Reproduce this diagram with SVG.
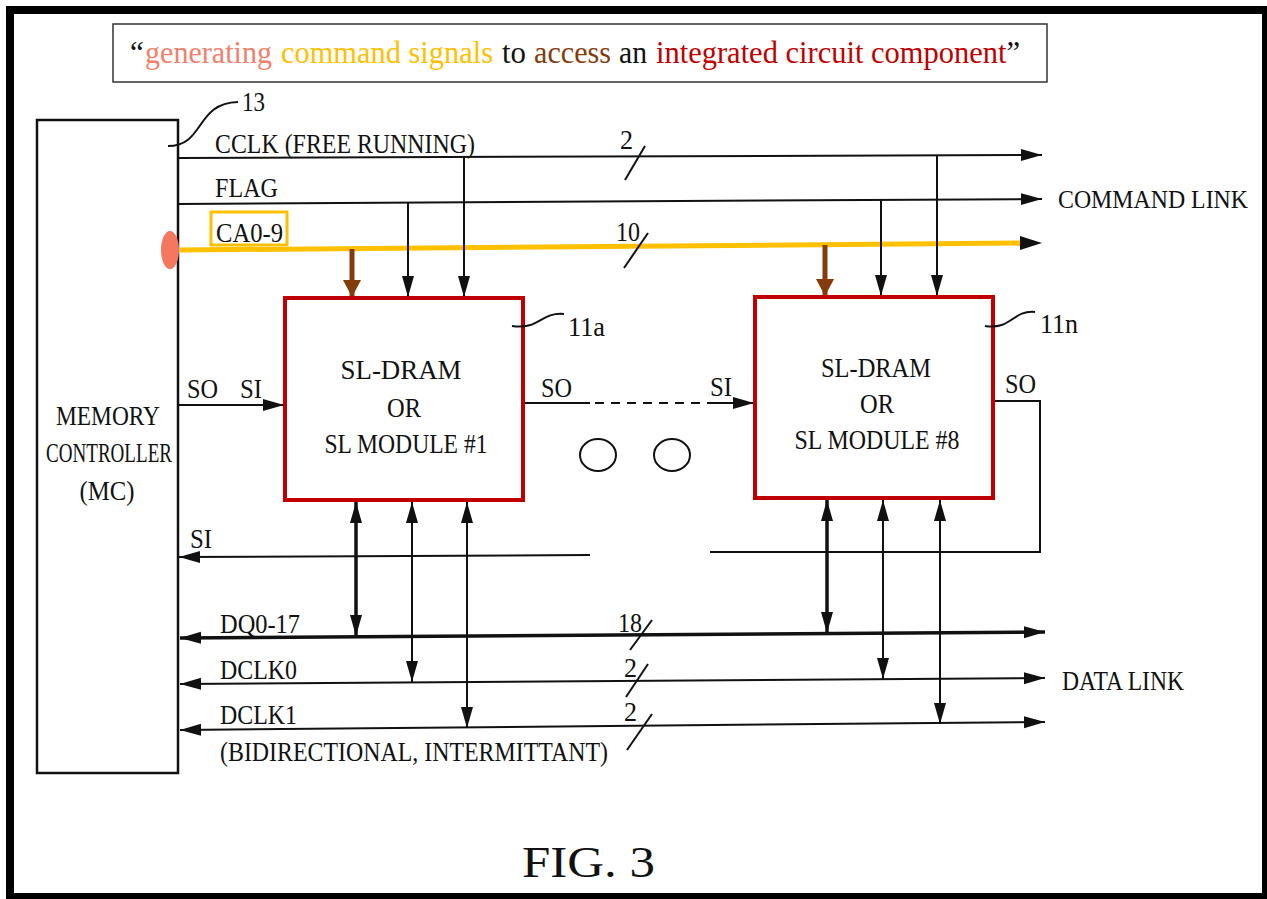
<svg xmlns="http://www.w3.org/2000/svg" width="1267" height="899" viewBox="0 0 1267 899">
<defs>
<style>
.t{font-family:"Liberation Serif","Times New Roman",serif;font-size:28px;fill:#111}
.h{font-family:"Liberation Serif","Times New Roman",serif;font-size:31px}
.ln{stroke:#111;stroke-width:2;fill:none}
.thk{stroke:#111;stroke-width:3.5;fill:none}
.box{fill:#fff;stroke:#C00000;stroke-width:4}
</style>
<marker id="a" markerUnits="userSpaceOnUse" markerWidth="22" markerHeight="14" refX="21" refY="7" orient="auto-start-reverse" viewBox="0 0 22 14">
<path d="M0,1 L21,7 L0,13 z" fill="#111"/>
</marker>
<marker id="b" markerUnits="userSpaceOnUse" markerWidth="18" markerHeight="20" refX="17" refY="10" orient="auto" viewBox="0 0 18 20">
<path d="M0,1 L17,10 L0,19 z" fill="#843C0C"/>
</marker>
</defs>
<rect x="0" y="0" width="1267" height="899" fill="#fff"/>
<rect x="6" y="6" width="1261" height="893" fill="#000"/>
<rect x="14" y="14" width="1248" height="879" fill="#fff"/>

<g id="title">
<rect x="113" y="24" width="934" height="58" fill="#fff" stroke="#333" stroke-width="1.5"/>
<text class="h" x="130" y="63" fill="#111">“</text>
<text class="h" x="145" y="63" fill="#F4806B" textLength="127" lengthAdjust="spacingAndGlyphs">generating</text>
<text class="h" x="281" y="63" fill="#FFC000" textLength="212" lengthAdjust="spacingAndGlyphs">command signals</text>
<text class="h" x="502" y="63" fill="#111" textLength="24" lengthAdjust="spacingAndGlyphs">to</text>
<text class="h" x="534" y="63" fill="#843C0C" textLength="77" lengthAdjust="spacingAndGlyphs">access</text>
<text class="h" x="619" y="63" fill="#111" textLength="28" lengthAdjust="spacingAndGlyphs">an</text>
<text class="h" x="656" y="63" textLength="364" lengthAdjust="spacingAndGlyphs"><tspan fill="#C00000">integrated circuit component</tspan><tspan fill="#111">”</tspan></text>
</g>

<g id="mc">
<rect x="37" y="120" width="141" height="653" fill="#fff" stroke="#111" stroke-width="2.5"/>
<text class="t" x="108" y="425" text-anchor="middle" textLength="104" lengthAdjust="spacingAndGlyphs">MEMORY</text>
<text class="t" x="109" y="462" text-anchor="middle" textLength="126" lengthAdjust="spacingAndGlyphs">CONTROLLER</text>
<text class="t" x="107" y="500" text-anchor="middle" textLength="55" lengthAdjust="spacingAndGlyphs">(MC)</text>
<path class="ln" d="M168,146 C205,146 195,103 238,102"/>
<text class="t" x="242" y="111" textLength="23" lengthAdjust="spacingAndGlyphs">13</text>
</g>

<g id="connectors">
<!-- command link -->
<line class="ln" x1="178" y1="158" x2="1042" y2="155" marker-end="url(#a)"/>
<line class="ln" x1="178" y1="204" x2="1042" y2="199" marker-end="url(#a)"/>
<line x1="180" y1="250" x2="1020" y2="243" stroke="#FFC000" stroke-width="5"/>
<path d="M1020,236 L1042,243 L1020,250 z" fill="#111"/>
<ellipse cx="170" cy="250" rx="9" ry="19" fill="#F4775E"/>
<line class="ln" x1="625" y1="180" x2="645" y2="146"/>
<line class="ln" x1="624" y1="268" x2="648" y2="233"/>
<!-- drops to 11a -->
<line x1="352" y1="249" x2="352" y2="297" stroke="#843C0C" stroke-width="5" marker-end="url(#b)"/>
<line class="ln" x1="408" y1="203" x2="408" y2="297" marker-end="url(#a)"/>
<line class="ln" x1="464" y1="157" x2="464" y2="297" marker-end="url(#a)"/>
<!-- drops to 11n -->
<line x1="825" y1="245" x2="825" y2="296" stroke="#843C0C" stroke-width="5" marker-end="url(#b)"/>
<line class="ln" x1="881" y1="200" x2="881" y2="296" marker-end="url(#a)"/>
<line class="ln" x1="937" y1="156" x2="937" y2="296" marker-end="url(#a)"/>
<!-- serial chain -->
<line class="ln" x1="178" y1="405" x2="284" y2="405" marker-end="url(#a)"/>
<line class="ln" x1="523" y1="403" x2="590" y2="403"/>
<line class="ln" x1="595" y1="403" x2="708" y2="403" stroke-dasharray="9,7"/>
<line class="ln" x1="708" y1="403" x2="754" y2="403" marker-end="url(#a)"/>
<polyline class="ln" points="993,401 1040,401 1040,552 710,552"/>
<line class="ln" x1="590" y1="555" x2="179" y2="557" marker-end="url(#a)"/>
<ellipse cx="598" cy="455" rx="18" ry="16" fill="none" stroke="#111" stroke-width="2"/>
<ellipse cx="672" cy="455" rx="18" ry="16" fill="none" stroke="#111" stroke-width="2"/>
<!-- data link -->
<line class="thk" x1="180" y1="638" x2="1045" y2="632" marker-start="url(#a)" marker-end="url(#a)"/>
<line class="ln" x1="180" y1="684" x2="1045" y2="678" marker-start="url(#a)" marker-end="url(#a)"/>
<line class="ln" x1="180" y1="730" x2="1045" y2="722" marker-start="url(#a)" marker-end="url(#a)"/>
<line class="ln" x1="630" y1="650" x2="652" y2="620"/>
<line class="ln" x1="626" y1="697" x2="648" y2="664"/>
<line class="ln" x1="627" y1="750" x2="652" y2="714"/>
<!-- bidirectional drops 11a -->
<line class="thk" x1="356" y1="502" x2="356" y2="636" marker-start="url(#a)" marker-end="url(#a)"/>
<line class="ln" x1="412" y1="502" x2="412" y2="682" marker-start="url(#a)" marker-end="url(#a)"/>
<line class="ln" x1="467" y1="502" x2="467" y2="728" marker-start="url(#a)" marker-end="url(#a)"/>
<!-- bidirectional drops 11n -->
<line class="thk" x1="827" y1="500" x2="827" y2="633" marker-start="url(#a)" marker-end="url(#a)"/>
<line class="ln" x1="883" y1="500" x2="883" y2="679" marker-start="url(#a)" marker-end="url(#a)"/>
<line class="ln" x1="940" y1="500" x2="940" y2="724" marker-start="url(#a)" marker-end="url(#a)"/>
</g>

<g id="labels">
<text class="t" x="215" y="153" textLength="260" lengthAdjust="spacingAndGlyphs">CCLK (FREE RUNNING)</text>
<text class="t" x="215" y="197" textLength="63" lengthAdjust="spacingAndGlyphs">FLAG</text>
<rect x="211" y="212" width="76" height="33" fill="none" stroke="#FFC000" stroke-width="3"/>
<text class="t" x="216" y="242" textLength="67" lengthAdjust="spacingAndGlyphs">CA0-9</text>
<text class="t" x="620" y="149" textLength="13" lengthAdjust="spacingAndGlyphs">2</text>
<text class="t" x="616" y="241" textLength="24" lengthAdjust="spacingAndGlyphs">10</text>
<text class="t" x="1058" y="208" style="font-size:25px" textLength="190" lengthAdjust="spacingAndGlyphs">COMMAND LINK</text>
<text class="t" x="187" y="398" textLength="31" lengthAdjust="spacingAndGlyphs">SO</text>
<text class="t" x="240" y="398" textLength="22" lengthAdjust="spacingAndGlyphs">SI</text>
<text class="t" x="541" y="397" textLength="31" lengthAdjust="spacingAndGlyphs">SO</text>
<text class="t" x="710" y="396" textLength="22" lengthAdjust="spacingAndGlyphs">SI</text>
<text class="t" x="1005" y="393" textLength="31" lengthAdjust="spacingAndGlyphs">SO</text>
<text class="t" x="190" y="548" textLength="22" lengthAdjust="spacingAndGlyphs">SI</text>
<text class="t" x="220" y="633" textLength="80" lengthAdjust="spacingAndGlyphs">DQ0-17</text>
<text class="t" x="618" y="632" textLength="24" lengthAdjust="spacingAndGlyphs">18</text>
<text class="t" x="220" y="679" textLength="77" lengthAdjust="spacingAndGlyphs">DCLK0</text>
<text class="t" x="624" y="677" textLength="13" lengthAdjust="spacingAndGlyphs">2</text>
<text class="t" x="220" y="724" textLength="77" lengthAdjust="spacingAndGlyphs">DCLK1</text>
<text class="t" x="624" y="721" textLength="13" lengthAdjust="spacingAndGlyphs">2</text>
<text class="t" x="220" y="761" textLength="388" lengthAdjust="spacingAndGlyphs">(BIDIRECTIONAL, INTERMITTANT)</text>
<text class="t" x="1062" y="690" textLength="122" lengthAdjust="spacingAndGlyphs">DATA LINK</text>
<text x="522" y="877" font-family="Liberation Serif, Times New Roman, serif" font-size="44" fill="#111" textLength="133" lengthAdjust="spacingAndGlyphs">FIG. 3</text>
</g>

<g id="box11a">
<rect class="box" x="285" y="298" width="238" height="202"/>
<text class="t" x="401" y="379" text-anchor="middle" textLength="121" lengthAdjust="spacingAndGlyphs">SL-DRAM</text>
<text class="t" x="404" y="417" text-anchor="middle" textLength="34" lengthAdjust="spacingAndGlyphs">OR</text>
<text class="t" x="406" y="453" text-anchor="middle" textLength="163" lengthAdjust="spacingAndGlyphs">SL MODULE #1</text>
<path class="ln" d="M512,326 C540,330 540,312 564,314"/>
<text class="t" x="568" y="336" textLength="37" lengthAdjust="spacingAndGlyphs">11a</text>
</g>

<g id="box11n">
<rect class="box" x="755" y="297" width="238" height="201"/>
<text class="t" x="876" y="377" text-anchor="middle" textLength="110" lengthAdjust="spacingAndGlyphs">SL-DRAM</text>
<text class="t" x="877" y="413" text-anchor="middle" textLength="34" lengthAdjust="spacingAndGlyphs">OR</text>
<text class="t" x="877" y="449" text-anchor="middle" textLength="165" lengthAdjust="spacingAndGlyphs">SL MODULE #8</text>
<path class="ln" d="M985,326 C1012,330 1012,310 1035,312"/>
<text class="t" x="1040" y="333" textLength="38" lengthAdjust="spacingAndGlyphs">11n</text>
</g>
</svg>
